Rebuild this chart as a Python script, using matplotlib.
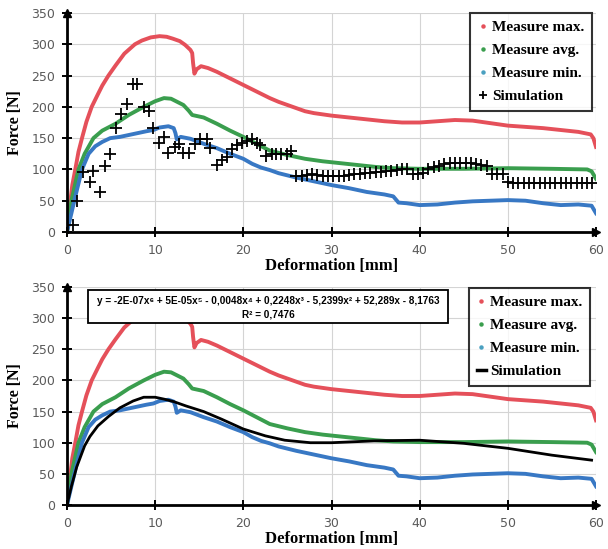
import matplotlib
matplotlib.use("Agg")
import matplotlib.pyplot as plt
from matplotlib.patches import Rectangle
from matplotlib.lines import Line2D

# ---------------- data ----------------
max_x = [0, 0.3, 0.6, 0.94, 1.3, 1.7, 2.2, 2.8, 3.5, 4.0, 4.7, 5.5, 6.5, 7.7, 8.5, 9.5, 10.5, 11.3,
         12.0, 12.8, 13.4, 14.0, 14.2, 14.3, 14.45, 14.7, 15.2, 16, 17, 18, 19, 20, 21, 22, 23, 24, 25,
         26, 27, 28, 29, 30, 32, 34, 36, 38, 40, 42, 44, 46, 48, 50, 52, 54, 56, 58, 59.4, 59.7, 60]
max_y = [0, 40, 75, 100, 128, 150, 176, 200, 220, 234, 250, 266, 285, 300, 306, 311, 313, 312,
         309, 305, 299, 291, 286, 270, 253, 260, 265, 262, 256, 249, 242, 235, 228, 221, 214, 208, 203,
         198, 193, 190, 188, 186, 183, 180, 177, 175, 175, 177, 179, 178, 174, 170, 168, 166, 163, 160, 156, 150, 136]

avg_x = [0, 0.5, 1.3, 2.0, 3.0, 4.0, 5.5, 7.0, 8.7, 10.0, 11.0, 11.8, 12.5, 13.2, 13.8, 14.2, 15.5,
         17, 18.5, 20, 21.5, 23, 25, 27, 29, 31, 33, 35, 37, 40, 45, 50, 55, 59, 59.5, 60]
avg_y = [0, 50, 100, 125, 150, 162, 173, 187, 200, 209, 214, 213, 208, 203, 194, 187, 183,
         173, 162, 152, 141, 130, 123, 117, 113, 110, 107, 104, 102, 101, 101, 102, 101, 100, 97, 85]

min_x = [0, 0.5, 1.0, 1.7, 2.45, 3.2, 4.0, 4.9, 6.0, 7.0, 8.0, 9.0, 9.8, 10.5, 11.5, 12.1, 12.3, 12.45,
         12.9, 14.0, 15.5, 17, 18.5, 20, 21, 22, 23, 24, 26, 28, 30, 32, 34, 36, 37.0, 37.3, 37.6, 38.5,
         40, 42, 44, 46, 48, 50, 52, 54, 56, 58, 59.5, 60]
min_y = [0, 30, 60, 100, 125, 137, 144, 150, 152, 155, 158, 161, 163, 167, 169, 166, 158, 148,
         152, 149, 141, 134, 125, 117, 109, 103, 99, 94, 87, 81, 75, 70, 64, 60, 57, 52, 47, 46,
         43, 44, 47, 49, 50, 51, 50, 46, 43, 44, 42, 30]

sim_x = [0.68, 1.13, 1.8, 2.56, 3.0, 3.7, 4.26, 4.9, 5.6, 6.1, 6.8, 7.5, 7.9, 8.7, 9.25, 9.8, 10.4,
         10.95, 11.5, 12.3, 12.65, 13.2, 13.8, 14.5, 15.1, 15.9, 16.2, 17.0, 17.6, 18.1, 18.7, 19.3,
         19.8, 20.4, 21.0, 21.5, 21.9, 22.6, 23.2, 23.7, 24.3, 24.9, 25.4,
         26.0, 26.6, 27.2, 27.8, 28.4, 29.0, 29.6, 30.2, 30.8, 31.4, 32.0, 32.6, 33.2, 33.8, 34.4,
         35.0, 35.6, 36.2, 36.8, 37.4, 38.0, 38.6, 39.2, 39.8, 40.4, 41.0, 41.6, 42.2, 42.8, 43.4,
         44.0, 44.6, 45.2, 45.8, 46.4, 47.0, 47.6, 48.2, 48.8, 49.4, 50.0, 50.6, 51.2, 51.8, 52.4,
         53.0, 53.6, 54.2, 54.8, 55.4, 56.0, 56.6, 57.2, 57.8, 58.4, 59.0, 59.6]
sim_y = [11, 50, 96, 80, 97, 64, 106, 124, 167, 188, 205, 236, 236, 200, 194, 167, 142,
         152, 126, 136, 141, 126, 126, 141, 148, 148, 135, 107, 115, 120, 132, 139,
         142, 146, 149, 142, 139, 122, 125, 124, 124, 124, 129,
         89, 90, 91, 92, 91, 90, 90, 89, 90, 90, 91, 92, 93, 95, 94,
         96, 96, 97, 98, 99, 100, 101, 93, 92, 95, 100, 104, 106, 109, 110,
         111, 111, 111, 110, 108, 107, 106, 93, 93, 92, 80, 79, 79, 79, 79,
         79, 79, 79, 79, 79, 79, 79, 79, 79, 79, 79, 79]

fit_x = [0, 0.5, 1.1, 2.0, 2.6, 3.5, 4.7, 6.0, 7.5, 8.7, 10.0, 11.0, 12.1, 13.5, 15.5, 17.5, 20.0,
         22.5, 24.7, 27.6, 30, 35, 40, 45, 50, 55, 59.5]
fit_y = [0, 30, 61, 95, 110, 127, 142, 156, 167, 173, 173, 170, 166, 159, 150, 138, 122,
         111, 104, 100, 100, 103, 104, 99, 91, 80, 72]

x_ticks = [0, 10, 20, 30, 40, 50, 60]
y_ticks = [0, 50, 100, 150, 200, 250, 300, 350]

equation = "y = -2E-07x\u2076 + 5E-05x\u2075 - 0,0048x\u2074 + 0,2248x\u00b3 - 5,2399x\u00b2 + 52,289x - 8,1763"
r2_text = "R\u00b2 = 0,7476"

labels = ["Measure max.", "Measure avg.", "Measure min.", "Simulation"]

# ---------------- style ----------------
C_RED = "#e5505a"
C_GREEN = "#3a9e4e"
C_BLUE = "#3878c4"
LW = 2.8
SERIF = ["Liberation Serif", "DejaVu Serif"]

fig = plt.figure(figsize=(6.08, 5.49), dpi=100)
fig.patch.set_facecolor("white")

ax1 = fig.add_axes([67 / 608, 1 - 232 / 549, 529 / 608, 219 / 549])
ax2 = fig.add_axes([67 / 608, 1 - 505 / 549, 529 / 608, 218 / 549])


def style_axes(ax):
    ax.set_xlim(0, 60)
    ax.set_ylim(0, 350)
    ax.set_xticks(x_ticks)
    ax.set_yticks(y_ticks)
    ax.grid(True, color="#d4d4d4", lw=0.8)
    ax.set_axisbelow(True)
    for s in ["top", "right"]:
        ax.spines[s].set_visible(False)
    for s in ["left", "bottom"]:
        ax.spines[s].set_linewidth(2.0)
        ax.spines[s].set_color("black")
        ax.spines[s].set_zorder(5)
    ax.tick_params(direction="inout", length=7, width=1.4, color="black",
                   labelsize=9, labelcolor="#5a5a5a", pad=5)
    ax.plot([0], [1], marker="^", color="black", markersize=6, transform=ax.transAxes,
            clip_on=False, zorder=6)
    ax.plot([1], [0], marker=">", color="black", markersize=6, transform=ax.transAxes,
            clip_on=False, zorder=6)
    ax.set_xlabel("Deformation [mm]", family=SERIF, fontweight="bold", fontsize=12, labelpad=1)
    ax.set_ylabel("Force [N]", family=SERIF, fontweight="bold", fontsize=11.5, labelpad=6)


for ax in (ax1, ax2):
    style_axes(ax)
    ax.plot(max_x, max_y, color=C_RED, lw=LW, zorder=3)
    ax.plot(avg_x, avg_y, color=C_GREEN, lw=LW, zorder=3)
    ax.plot(min_x, min_y, color=C_BLUE, lw=LW, zorder=3)

ax1.plot(sim_x, sim_y, ls="none", marker="+", color="black", markersize=9, mew=1.3, zorder=4)
ax2.plot(fit_x, fit_y, color="black", lw=2.0, zorder=4)


def handles(sim_handle):
    return [
        Line2D([], [], ls="none", marker="o", markersize=2.2, color=C_RED),
        Line2D([], [], ls="none", marker="o", markersize=2.2, color=C_GREEN),
        Line2D([], [], ls="none", marker="o", markersize=2.2, color="#4aa0c0"),
        sim_handle,
    ]


leg_kw = dict(loc="upper right", borderaxespad=0, frameon=True, fancybox=False,
              handlelength=0.6, handletextpad=0.3, labelspacing=0.6, borderpad=0.5,
              prop={"family": SERIF, "weight": "bold", "size": 11})
leg1 = ax1.legend(handles(Line2D([], [], ls="none", marker="+", color="black", markersize=6, mew=1.3)),
                  labels, bbox_to_anchor=(0.992, 1.0), **leg_kw)
leg2 = ax2.legend(handles(Line2D([], [], color="black", lw=2.5)),
                  labels, bbox_to_anchor=(0.989, 0.995), **leg_kw)
for lg in (leg1, leg2):
    lg.get_frame().set_edgecolor("black")
    lg.get_frame().set_linewidth(1.5)
    lg.set_zorder(10)

# equation box
ax2.add_patch(Rectangle((0.040, 0.835), 0.680, 0.151, transform=ax2.transAxes,
                        facecolor="white", edgecolor="black", lw=1.3, zorder=8, clip_on=False))
ax2.text(0.38, 0.937, equation, transform=ax2.transAxes, ha="center", va="center",
         fontsize=7.2, fontweight="bold", family=["Liberation Sans", "DejaVu Sans"], zorder=9)
ax2.text(0.38, 0.874, r2_text, transform=ax2.transAxes, ha="center", va="center",
         fontsize=7.2, fontweight="bold", family=["Liberation Sans", "DejaVu Sans"], zorder=9)

fig.savefig("out.png", dpi=100)
